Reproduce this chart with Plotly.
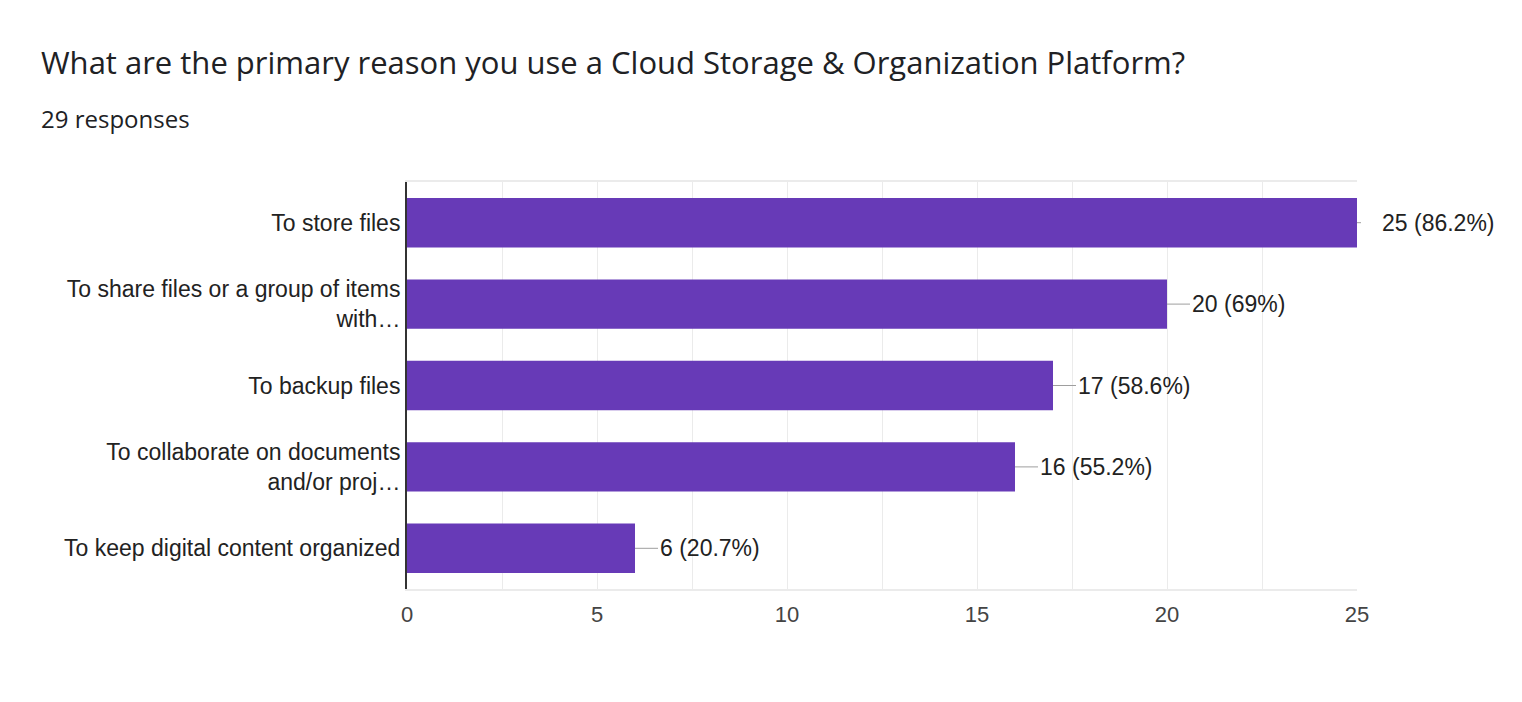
import plotly.graph_objects as go

categories = [
    "To store files",
    "To share files or a group of items<br>with…",
    "To backup files",
    "To collaborate on documents<br>and/or proj…",
    "To keep digital content organized",
]
counts = [25, 20, 17, 16, 6]
percent_labels = ["86.2%", "69%", "58.6%", "55.2%", "20.7%"]
x_ticks = [0, 5, 10, 15, 20, 25]

title_text = "What are the primary reason you use a Cloud Storage &amp; Organization Platform?"
subtitle_text = "29 responses"

BAR = "#673ab7"
GRID = "#ebebeb"

# page body has an ~8px margin, so the figure is sized/offset to compensate
OFF = 8
W, H = 1522 - 2 * OFF, 702 - 2 * OFF
L, R, T = 407 - OFF, 165 - OFF, 182 - OFF
B = H - (589 - OFF)
pw, ph = W - L - R, H - T - B

fig = go.Figure()
fig.add_trace(go.Bar(
    x=counts, y=categories, orientation="h",
    marker=dict(color=BAR, line=dict(width=0)),
    width=0.607, hoverinfo="skip",
))

annotations = []
for i, (c, cat, p) in enumerate(zip(counts, categories, percent_labels)):
    annotations.append(dict(
        x=c, y=cat, xref="x", yref="y",
        text=f"{c} ({p})", showarrow=True, arrowhead=0, arrowwidth=1,
        arrowcolor="#9e9e9e", ax=23, ay=0, xanchor="left",
        startstandoff=19 if i == 0 else 0,
        font=dict(family="Liberation Sans, Arial", size=23, color="#222222"),
    ))

annotations.append(dict(
    text=title_text, xref="paper", yref="paper",
    x=(39 - 407) / pw, y=(589 - 62) / ph, xanchor="left", yanchor="middle",
    showarrow=False,
    font=dict(family="Open Sans", size=31, color="#202124"),
))
annotations.append(dict(
    text=subtitle_text, xref="paper", yref="paper",
    x=(39 - 407) / pw, y=(589 - 118) / ph, xanchor="left", yanchor="middle",
    showarrow=False,
    font=dict(family="Open Sans", size=24, color="#202124"),
))

fig.update_layout(
    width=W, height=H,
    margin=dict(l=L, r=R, t=T, b=B),
    paper_bgcolor="white", plot_bgcolor="white",
    showlegend=False,
    annotations=annotations,
)
fig.update_xaxes(
    range=[0, 25], tickvals=x_ticks, ticks="",
    showgrid=True, gridcolor=GRID, gridwidth=1,
    minor=dict(dtick=2.5, showgrid=True, gridcolor=GRID, gridwidth=1),
    showline=True, linecolor=GRID, linewidth=2, mirror=True,
    zeroline=False,
    tickfont=dict(family="Liberation Sans, Arial", size=22, color="#444444"),
    ticklabelstandoff=5,
    fixedrange=True,
)
fig.update_yaxes(
    autorange="reversed", ticks="", showgrid=False,
    showline=True, linecolor="#333333", linewidth=2,
    tickfont=dict(family="Liberation Sans, Arial", size=23, color="#222222"),
    ticklabelstandoff=0,
    fixedrange=True,
)

fig.write_html("out.html", config={"displayModeBar": False})
